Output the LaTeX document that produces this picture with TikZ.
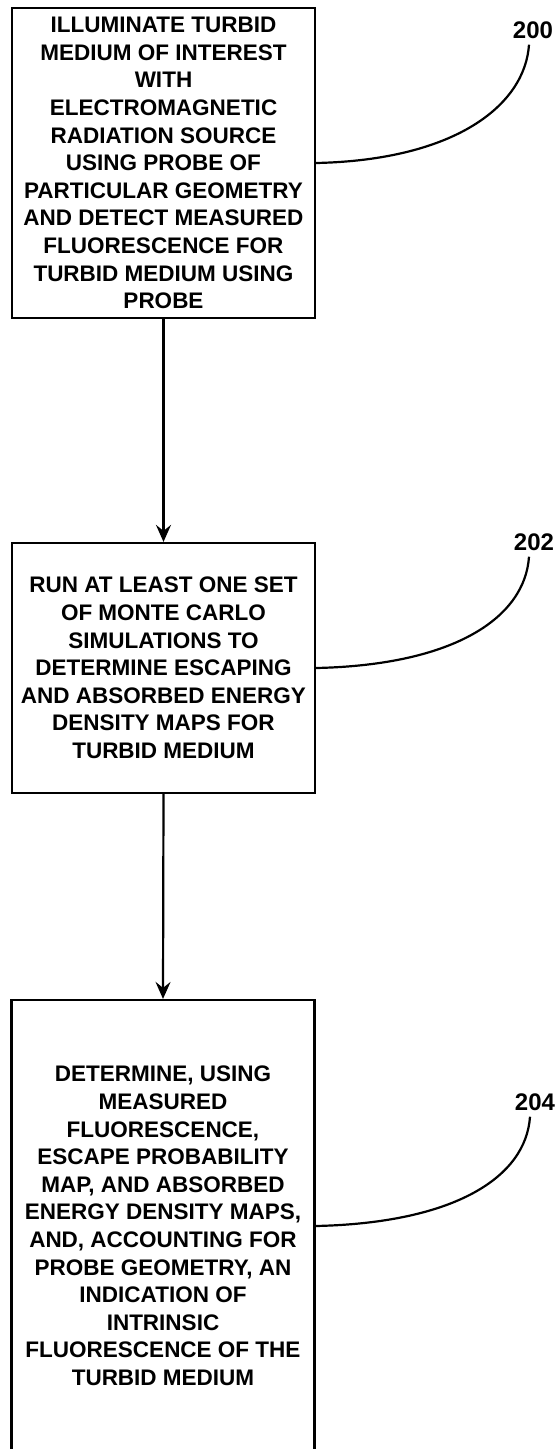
\documentclass[tikz,border=0pt]{standalone}
\usepackage{fontspec}
\setmainfont{Liberation Sans}
\usetikzlibrary{arrows.meta}
\tikzset{
  stepbox/.style={draw, line width=2.2pt, minimum width=303pt, inner sep=0pt, align=center,
    font=\bfseries\fontsize{22.5}{27.6}\selectfont},
  reflabel/.style={font=\bfseries\fontsize{24}{26}\selectfont, inner sep=0pt},
  leader/.style={line width=2.2pt},
  flow/.style={line width=2.2pt, -{Stealth[length=17pt,width=15pt,inset=6pt]}}
}
\begin{document}
\begin{tikzpicture}[x=1pt,y=-1pt]
\useasboundingbox (0,0) rectangle (559,1449);
\clip (0,0) rectangle (559,1449);
\node[stepbox, minimum height=310pt] (b1) at (163.5,163) {ILLUMINATE TURBID\\MEDIUM OF INTEREST\\WITH\\ELECTROMAGNETIC\\RADIATION SOURCE\\USING PROBE OF\\PARTICULAR GEOMETRY\\AND DETECT MEASURED\\FLUORESCENCE FOR\\TURBID MEDIUM USING\\PROBE};
\node[stepbox, minimum height=250pt] (b2) at (163.5,668) {RUN AT LEAST ONE SET\\OF MONTE CARLO\\SIMULATIONS TO\\DETERMINE ESCAPING\\AND ABSORBED ENERGY\\DENSITY MAPS FOR\\TURBID MEDIUM};
\node[stepbox, minimum height=452pt] (b3) at (163,1226) {DETERMINE, USING\\MEASURED\\FLUORESCENCE,\\ESCAPE PROBABILITY\\MAP, AND ABSORBED\\ENERGY DENSITY MAPS,\\AND, ACCOUNTING FOR\\PROBE GEOMETRY, AN\\INDICATION OF\\INTRINSIC\\FLUORESCENCE OF THE\\TURBID MEDIUM};
\node[reflabel] (l1) at (533,30) {200};
\node[reflabel] (l2) at (534,542) {202};
\node[reflabel] (l3) at (535,1102) {204};
\coordinate (t1) at ([xshift=-4pt,yshift=-6pt]l1.south);
\coordinate (t2) at ([xshift=-5pt,yshift=-6pt]l2.south);
\coordinate (t3) at ([xshift=-5pt,yshift=-6pt]l3.south);
\draw[flow] (b1.south) -- (b2.north);
\draw[flow] (b2.south) -- (b3.north);
\draw[leader] (b1.east) .. controls +(140,-3) and +(-4,60) .. (t1);
\draw[leader] (b2.east) .. controls +(140,-3) and +(-4,60) .. (t2);
\draw[leader] (b3.east) .. controls +(140,-3) and +(-4,60) .. (t3);
\end{tikzpicture}
\end{document}
